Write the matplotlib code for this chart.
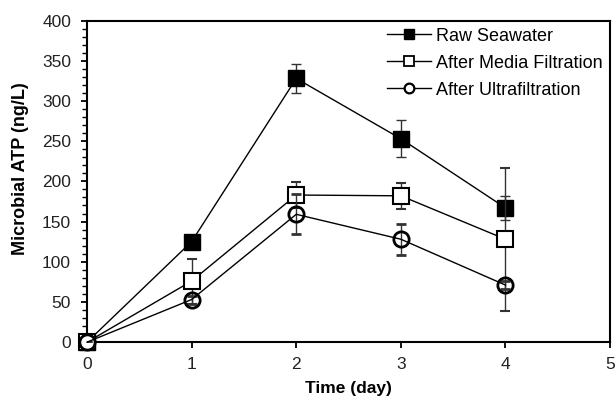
#!/usr/bin/env python3

import matplotlib
matplotlib.use("Agg")
import matplotlib.pyplot as plt
from matplotlib.lines import Line2D
from matplotlib.ticker import MultipleLocator

plt.rcParams['font.family'] = ['Liberation Sans', 'DejaVu Sans']

days = [0, 1, 2, 3, 4]
raw = [0, 125, 328, 253, 167]
raw_err = [0, 0, 18, 23, 15]
media = [0, 76, 183, 182, 128]
media_err = [0, 28, 16, 16, 89]
ultra = [0, 53, 159, 128, 71]
ultra_err = [0, 5, 25, 19, 5]
labels = ['Raw Seawater', 'After Media Filtration', 'After Ultrafiltration']

fig = plt.figure(figsize=(6.15, 4.03), dpi=100)
ax = fig.add_axes([0.1415, 0.151, 0.8505, 0.798])

common = dict(color='black', lw=1.0, ms=11, capsize=3.3, elinewidth=1.0,
              capthick=1.0, ecolor='#333333')
series = [
    (raw, raw_err, dict(marker='s', mfc='black', mec='black', zorder=3)),
    (media, media_err, dict(marker='s', mfc='white', mec='black', mew=1.5, zorder=4)),
    (ultra, ultra_err, dict(marker='o', mfc='none', mec='black', mew=2.0, zorder=5)),
]
for vals, errs, style in series:
    cont = ax.errorbar(days, vals, yerr=errs, **common, **style)
    cont.lines[0].set_clip_on(False)

ax.set_xlim(0, 5)
ax.set_ylim(0, 400)
ax.xaxis.set_major_locator(MultipleLocator(1))
ax.yaxis.set_major_locator(MultipleLocator(50))
ax.yaxis.set_minor_locator(MultipleLocator(10))
ax.tick_params(axis='both', which='major', labelsize=12.5, length=4, width=1.3,
               pad=7.5, colors='black', labelcolor='#222222')
ax.tick_params(axis='x', which='major', pad=7)
ax.tick_params(axis='y', which='minor', length=3.5, width=1.0)
for s in ax.spines.values():
    s.set_linewidth(1.5)

ax.set_xlabel('Time (day)', fontsize=12.5, fontweight='bold', labelpad=6)
ax.set_ylabel('Microbial ATP (ng/L)', fontsize=13, fontweight='bold')
ax.yaxis.set_label_coords(-0.11, 0.54)

handles = [
    Line2D([], [], color='black', lw=1.0, marker='s', ms=7, mfc='black', mec='black'),
    Line2D([], [], color='black', lw=1.0, marker='s', ms=7, mfc='white', mec='black', mew=1.3),
    Line2D([], [], color='black', lw=1.0, marker='o', ms=7, mfc='white', mec='black', mew=1.6),
]
ax.legend(handles, labels, loc='upper right', frameon=False, fontsize=13,
          handlelength=2.4, handletextpad=0.3, labelspacing=0.55,
          borderaxespad=0.4, borderpad=0.0)

fig.savefig('out.png', dpi=100)
